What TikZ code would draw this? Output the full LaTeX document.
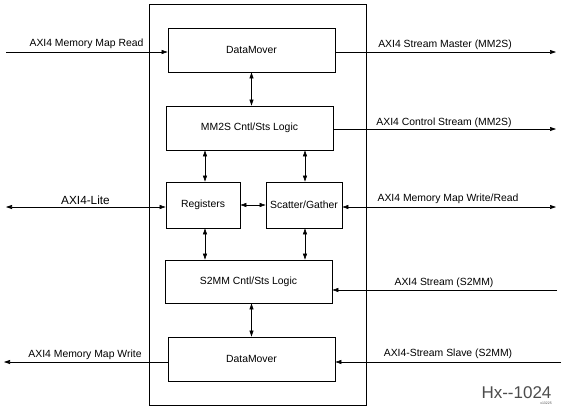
\documentclass[tikz,border=0pt]{standalone}
\usepackage{fontspec}
\setmainfont{Liberation Sans}
\usetikzlibrary{arrows.meta}
\begin{document}
\begin{tikzpicture}[x=1pt,y=-1pt,
  blk/.style={draw, line width=0.8pt, inner sep=0pt, font=\fontsize{10.4}{12}\selectfont},
  lbl/.style={inner sep=0pt, font=\fontsize{10.4}{12}\selectfont},
  arr/.style={line width=0.6pt, -{Triangle[length=6pt,width=4pt]}},
  dbl/.style={line width=0.6pt, {Triangle[length=6pt,width=4pt]}-{Triangle[length=6pt,width=4pt]}}]
\useasboundingbox (0,0) rectangle (563,410);
% outer box
\node[draw, line width=0.8pt, minimum width=217pt, minimum height=401pt, inner sep=0pt] (outer) at (257.5,204.5) {};
% blocks
\node[blk, minimum width=167pt, minimum height=44pt] (dm1) at (251.5,50) {DataMover};
\node[blk, minimum width=167pt, minimum height=44pt] (mm2s) at (249.5,128) {MM2S Cntl/Sts Logic};
\node[blk, minimum width=74pt, minimum height=46pt] (regs) at (203,205) {Registers};
\node[blk, minimum width=76pt, minimum height=46pt] (sg) at (304,205) {Scatter/Gather};
\node[blk, minimum width=167pt, minimum height=43pt] (s2mm) at (248.5,281.5) {S2MM Cntl/Sts Logic};
\node[blk, minimum width=167pt, minimum height=44pt] (dm2) at (251.5,359) {DataMover};
% external end points
\coordinate (mmr) at (6,52);
\coordinate (smm) at (556,52);
\coordinate (csm) at (556,129);
\coordinate (lite) at (6,207);
\coordinate (mmwr) at (556,207);
\coordinate (ss2mm) at (557,290);
\coordinate (sss) at (561,362);
\coordinate (mmw) at (4,362);
% external connectors
\draw[arr] (mmr) -- (mmr -| dm1.west);
\draw[arr] (dm1.east |- smm) -- (smm);
\draw[arr] (mm2s.east |- csm) -- (csm);
\draw[dbl] (lite) -- (lite -| regs.west);
\draw[dbl] (sg.east |- mmwr) -- (mmwr);
\draw[arr] (ss2mm) -- (ss2mm -| s2mm.east);
\draw[arr] (sss) -- (sss -| dm2.east);
\draw[arr] (dm2.west |- mmw) -- (mmw);
% internal connectors
\draw[dbl] (dm1.south) -- (dm1.south |- mm2s.north);
\draw[dbl] ([xshift=2pt]regs.north |- mm2s.south) -- ([xshift=2pt]regs.north);
\draw[dbl] ([xshift=1pt]sg.north |- mm2s.south) -- ([xshift=1pt]sg.north);
\draw[dbl] (regs.east) -- (sg.west);
\draw[dbl] ([xshift=2pt]regs.south) -- ([xshift=2pt]regs.south |- s2mm.north);
\draw[dbl] ([xshift=1pt]sg.south) -- ([xshift=1pt]sg.south |- s2mm.north);
\draw[dbl] (dm2.north -| dm1.south) -- (dm1.south |- s2mm.south);
% labels
\node[lbl] (l1) at (86.5,44) {AXI4 Memory Map Read};
\node[lbl, font=\fontsize{11.8}{13}\selectfont] (l2) at (85.5,200) {AXI4-Lite};
\node[lbl] (l3) at (85,355) {AXI4 Memory Map Write};
\node[lbl] (r1) at (445,45) {AXI4 Stream Master (MM2S)};
\node[lbl] (r2) at (444,123) {AXI4 Control Stream (MM2S)};
\node[lbl] (r3) at (448,199) {AXI4 Memory Map Write/Read};
\node[lbl] (r4) at (444,283) {AXI4 Stream (S2MM)};
\node[lbl] (r5) at (448,354) {AXI4-Stream Slave (S2MM)};
\node[inner sep=0pt, text=black!70, font=\fontsize{17}{18}\selectfont] (hx) at (516.5,392.5) {Hx{-}{-}1024};
\node[inner sep=0pt, text=black!70, font=\fontsize{3.5}{4}\selectfont] (xn) at (546,403.5) {x13225};
\end{tikzpicture}
\end{document}
